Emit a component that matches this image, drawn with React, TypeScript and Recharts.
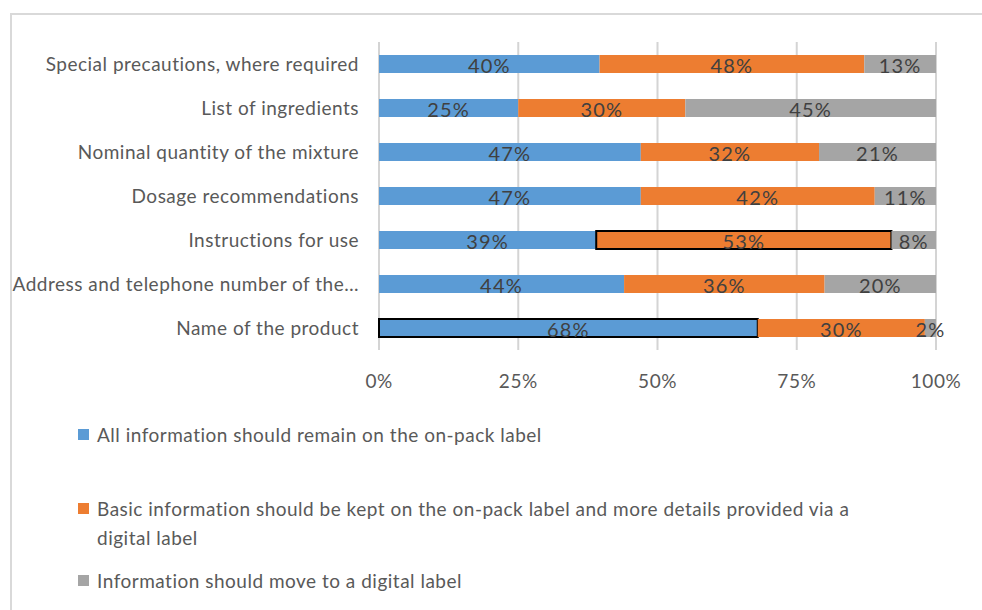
import React from "react";
import { BarChart, Bar, XAxis, YAxis, CartesianGrid, Cell, LabelList } from "recharts";

const categories = [
  "Special precautions, where required",
  "List of ingredients",
  "Nominal quantity of the mixture",
  "Dosage recommendations",
  "Instructions for use",
  "Address and telephone number of the…",
  "Name of the product",
];

const remainOnPack = [40, 25, 47, 47, 39, 44, 68];
const basicOnPack = [48, 30, 32, 42, 53, 36, 30];
const moveToDigital = [13, 45, 21, 11, 8, 20, 2];

const xTicks = [0, 0.25, 0.5, 0.75, 1];

// rows whose segment is outlined in black in the source chart
const outlined: Record<string, number> = { remain: 6, basic: 4 };

const series = [
  { key: "remain", name: "All information should remain on the on-pack label", color: "#5b9bd5" },
  {
    key: "basic",
    name: "Basic information should be kept on the on-pack label and more details provided via a digital label",
    color: "#ed7d31",
  },
  { key: "digital", name: "Information should move to a digital label", color: "#a5a5a5" },
];

const data = categories.map((name, i) => ({
  name,
  remain: remainOnPack[i],
  basic: basicOnPack[i],
  digital: moveToDigital[i],
}));

const font = "Lato, 'Open Sans', sans-serif";
const textStyle = { fill: "#595959", fontSize: 19, fontFamily: font, letterSpacing: 0.5 };

export default function App() {
  return (
    <div
      style={{
        position: "absolute",
        left: 0,
        top: 0,
        width: 982,
        height: 610,
        overflow: "hidden",
        background: "#fff",
        fontFamily: font,
      }}
    >
      <div
        style={{
          position: "absolute",
          left: 10,
          top: 13,
          width: 1000,
          height: 620,
          borderLeft: "2px solid #d9d9d9",
          borderTop: "2px solid #d9d9d9",
        }}
      />
      <div style={{ position: "absolute", left: 0, top: 0 }}>
        <BarChart
          width={982}
          height={400}
          data={data}
          layout="vertical"
          stackOffset="expand"
          margin={{ top: 42, right: 46, bottom: 0, left: 0 }}
          barSize={18}
        >
          <CartesianGrid horizontal={false} stroke="#d4d4d4" strokeWidth={2} />
          <XAxis
            type="number"
            domain={[0, 1]}
            ticks={xTicks}
            tickFormatter={(v) => `${Math.round(v * 100)}%`}
            axisLine={false}
            tickLine={false}
            tickSize={0}
            tickMargin={25}
            height={50}
            tick={textStyle}
          />
          <YAxis
            type="category"
            dataKey="name"
            width={379}
            axisLine={false}
            tickLine={false}
            tickSize={0}
            tickMargin={20}
            interval={0}
            tick={textStyle}
          />
          {series.map((s) => (
            <Bar key={s.key} dataKey={s.key} stackId="a" fill={s.color} isAnimationActive={false}>
              {data.map((_, i) => (
                <Cell
                  key={i}
                  fill={s.color}
                  stroke={outlined[s.key] === i ? "#000" : "none"}
                  strokeWidth={outlined[s.key] === i ? 2 : 0}
                />
              ))}
              <LabelList
                dataKey={s.key}
                position="center"
                formatter={(v: number) => `${v}%`}
                fill="#404040"
                fontSize={20}
                fontFamily={font}
                letterSpacing={1.2}
                dy={2}
              />
            </Bar>
          ))}
        </BarChart>
      </div>
      <div style={{ position: "absolute", left: 78, top: 420, width: 900, color: "#595959", fontSize: 19, letterSpacing: 0.5 }}>
        {series.map((s, i) => (
          <div
            key={s.key}
            style={{
              position: "absolute",
              top: [0, 74, 146][i],
              left: 0,
              display: "flex",
              alignItems: "flex-start",
              lineHeight: "29px",
            }}
          >
            <span
              style={{ display: "inline-block", width: 11, height: 11, background: s.color, marginTop: 9, marginRight: 8, flexShrink: 0 }}
            />
            <span style={{ width: 790 }}>{s.name}</span>
          </div>
        ))}
      </div>
    </div>
  );
}
